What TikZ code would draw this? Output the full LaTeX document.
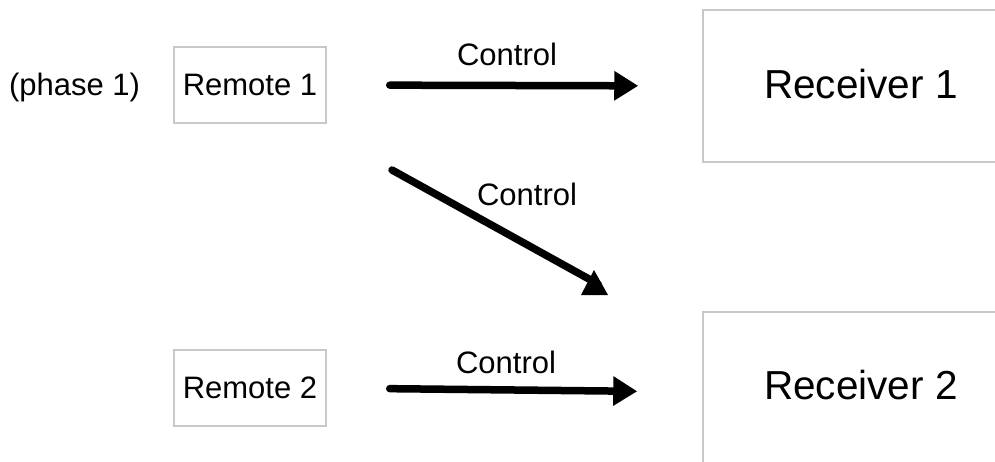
\documentclass[tikz,border=0pt]{standalone}
\usepackage{fontspec}
\setmainfont{Liberation Sans}
\usetikzlibrary{arrows.meta}
\definecolor{boxgray}{RGB}{200,200,200}
\begin{document}
\begin{tikzpicture}[x=1pt,y=-1pt,
  smallbox/.style={draw=boxgray,line width=1.5pt,rectangle,inner sep=0pt,
    minimum width=152pt,minimum height=76pt,font=\fontsize{31}{37}\selectfont},
  bigbox/.style={draw=boxgray,line width=1.5pt,rectangle,inner sep=0pt,
    minimum width=316pt,font=\fontsize{40.5}{48}\selectfont},
  lbl/.style={anchor=base,inner sep=0pt,font=\fontsize{31}{37}\selectfont},
  ctrl/.style={line width=7.5pt,line cap=round,-{Triangle[length=24pt,width=28pt]}}]
\useasboundingbox (0,0) rectangle (995,462);
\clip (0,0) rectangle (995,462);
\fill[white] (0,0) rectangle (995,462);
\node[smallbox] (remote1) at (250,85) {Remote 1};
\node[smallbox] (remote2) at (250,388) {Remote 2};
\node[bigbox,minimum height=152pt,text depth=5pt] (receiver1) at (861,86) {Receiver 1};
\node[bigbox,minimum height=160pt,text depth=15pt] (receiver2) at (861,392) {Receiver 2};
\node[lbl] (phase) at (74.5,96) {(phase 1)};
\draw[ctrl,shorten <=63pt,shorten >=64pt] (remote1.east) -- (receiver1.west);
\draw[ctrl,shorten <=63pt,shorten >=65pt] (remote2.east) -- (receiver2.west);
\coordinate (d1) at (392,170);
\coordinate (d2) at (598,284);
\draw[line width=7.5pt,line cap=round] (d1) -- (d2);
\fill (581,295) -- (608,295) -- (594,270) -- cycle;
\node[lbl] (c1) at (507,66) {Control};
\node[lbl] (c2) at (527,206) {Control};
\node[lbl] (c3) at (506,373) {Control};
\end{tikzpicture}
\end{document}
